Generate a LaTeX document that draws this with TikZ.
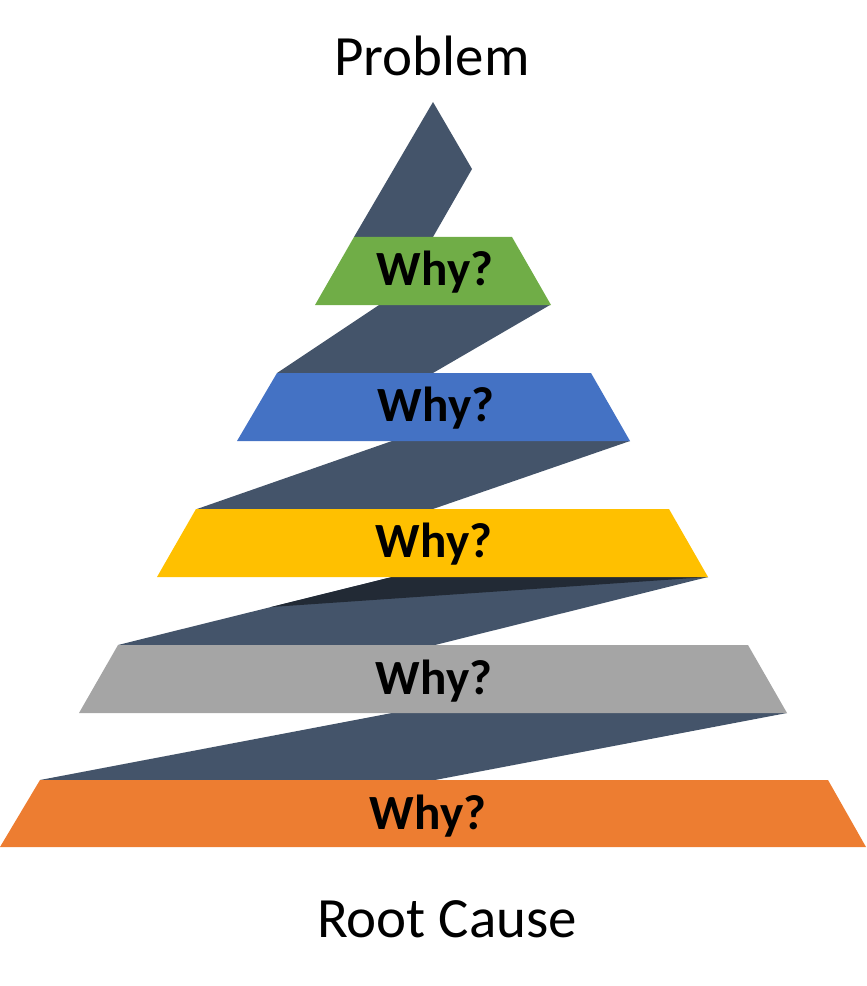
\documentclass[tikz,border=0pt]{standalone}
\usepackage{fontspec}
\setmainfont{Carlito}
\usetikzlibrary{positioning}

\definecolor{ribbon}{HTML}{44546A}
\definecolor{fold}{HTML}{222A35}
\definecolor{wgreen}{HTML}{70AD47}
\definecolor{wblue}{HTML}{4472C4}
\definecolor{wyellow}{HTML}{FFC000}
\definecolor{wgray}{HTML}{A5A5A5}
\definecolor{worange}{HTML}{ED7D31}

\tikzset{
	title/.style={anchor=base, inner sep=0pt, font=\fontsize{32.4}{36}\selectfont},
	why/.style={anchor=base, inner sep=0pt, font=\fontsize{28}{32}\selectfont\bfseries},
}

\begin{document}
\begin{tikzpicture}[x=0.02cm, y=-0.02cm]
	\useasboundingbox (0,0) rectangle (866,986);

	% the ribbon behind the bands
	\fill[ribbon] (433,102) -- (472,169) -- (433,237) -- (354,237) -- cycle;
	\fill[ribbon] (379,305) -- (550,305) -- (433,373) -- (277,373) -- cycle;
	\fill[ribbon] (392,441) -- (630,441) -- (433,509) -- (197,509) -- cycle;
	\fill[ribbon] (392,577) -- (708,577) -- (435,645) -- (118,645) -- cycle;
	\fill[fold] (392,577) -- (708,577) -- (271,607) -- cycle;
	\fill[ribbon] (392,713) -- (787,713) -- (435,780) -- (40,780) -- cycle;

	% the bands
	\fill[wgreen] (354,237) -- (512,237) -- (551,305) -- (315,305) -- cycle;
	\fill[wblue] (277,373) -- (591,373) -- (630,441) -- (237,441) -- cycle;
	\fill[wyellow] (196,509) -- (669,509) -- (708,577) -- (157,577) -- cycle;
	\fill[wgray] (118,645) -- (748,645) -- (787,713) -- (79,713) -- cycle;
	\fill[worange] (40,780) -- (828,780) -- (866,847) -- (0,847) -- cycle;

	\node[title] (problem) at (432,76) {Problem};
	\node[why] (why1) at (435,285) {Why?};
	\node[why] (why2) at (436,421) {Why?};
	\node[why] (why3) at (434,557) {Why?};
	\node[why] (why4) at (434,694) {Why?};
	\node[why] (why5) at (428,829) {Why?};
	\node[title] (cause) at (447,937) {Root Cause};
\end{tikzpicture}
\end{document}
